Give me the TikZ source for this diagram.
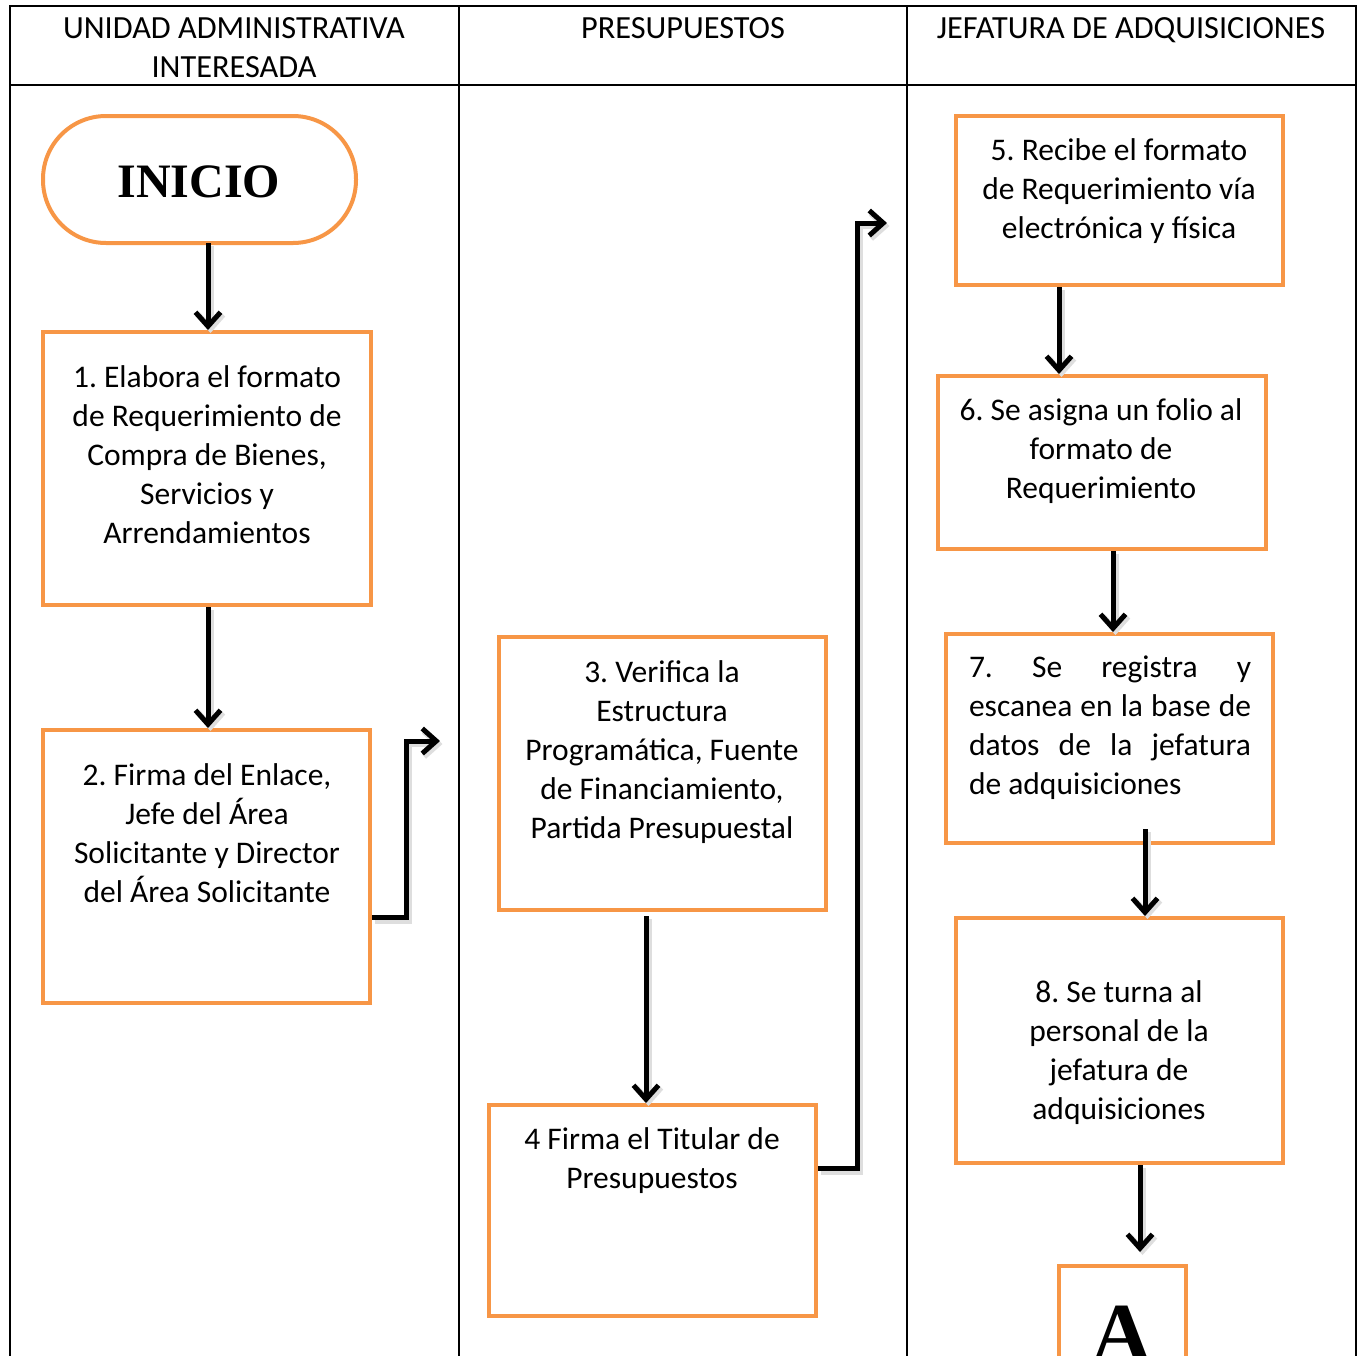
\documentclass[tikz,border=0pt]{standalone}
\usepackage{fontspec}
\setmainfont{Carlito}
\newfontfamily\timesbold[BoldFont={Liberation Serif Bold}]{Liberation Serif}
\usetikzlibrary{arrows.meta,calc}
\definecolor{accent}{RGB}{247,150,70}
\frenchspacing
\begin{document}
\begin{tikzpicture}[x=1pt,y=-1pt,
  boxtext/.style={inner sep=0pt,anchor=north,align=center,font=\fontsize{31.5}{39}\selectfont},
  headtext/.style={inner sep=0pt,anchor=north,align=center,font=\fontsize{32.3}{39}\selectfont},
  stepbox/.style={draw=accent,line width=4pt,inner sep=0pt},
  flow/.style={line width=5pt,-{Straight Barb[length=14pt,width=25pt]},
    preaction={draw=black!13,line width=6pt,transform canvas={shift={(2.5pt,-3pt)}}}},
  table/.style={line width=2pt}]
\useasboundingbox (0,0) rectangle (1359,1355);
\clip (0,0) rectangle (1359,1355);

% lane table
\draw[table] (10,1360) -- (10,6) -- (1356,6) -- (1356,1360);
\draw[table] (10,85) -- (1356,85);
\draw[table] (459,6) -- (459,1360);
\draw[table] (907,6) -- (907,1360);

\node[headtext] (h1) at (234,17) {UNIDAD ADMINISTRATIVA\\INTERESADA};
\node[headtext] (h2) at (683,17) {PRESUPUESTOS};
\node[headtext] (h3) at (1131,17) {JEFATURA DE ADQUISICIONES};

% start
\draw[draw=accent,line width=4pt,rounded corners=63pt] (43,116) rectangle (356,243);
\node[inner sep=0pt,minimum width=313pt,minimum height=127pt] (inicio) at (199.5,179.5) {};
\node[inner sep=0pt,font=\timesbold\fontsize{48}{50}\selectfont\bfseries] (inicioT) at (199,182) {INICIO};

% boxes
\node[stepbox,minimum width=328pt,minimum height=273pt] (b1) at (207,468.5) {};
\node[boxtext] (t1) at (207,365) {1. Elabora el formato\\de Requerimiento de\\Compra de Bienes,\\Servicios y\\Arrendamientos};

\node[stepbox,minimum width=327pt,minimum height=273pt] (b2) at (206.5,866.5) {};
\node[boxtext] (t2) at (207,763) {2. Firma del Enlace,\\Jefe del Área\\Solicitante y Director\\del Área Solicitante};

\node[stepbox,minimum width=327pt,minimum height=273pt] (b3) at (662.5,773.5) {};
\node[boxtext] (t3) at (662,660) {3. Verifica la\\Estructura\\Programática, Fuente\\de Financiamiento,\\Partida Presupuestal};

\node[stepbox,minimum width=327pt,minimum height=211pt] (b4) at (652.5,1210.5) {};
\node[boxtext] (t4) at (652,1127) {4 Firma el Titular de\\Presupuestos};

\node[stepbox,minimum width=327pt,minimum height=169pt] (b5) at (1119.5,200.5) {};
\node[boxtext] (t5) at (1119,138) {5. Recibe el formato\\de Requerimiento vía\\electrónica y física};

\node[stepbox,minimum width=328pt,minimum height=173pt] (b6) at (1102,462.5) {};
\node[boxtext] (t6) at (1101,398) {6. Se asigna un folio al\\formato de\\Requerimiento};

\node[stepbox,minimum width=327pt,minimum height=209pt] (b7) at (1109.5,738.5) {};
\node[boxtext,align=left] (t7) at (1110,656) {\makebox[282pt][s]{7. \hfill Se \hfill registra \hfill y}\\\makebox[282pt][s]{escanea en la base de}\\\makebox[282pt][s]{datos \ de \ la \ jefatura}\\de adquisiciones};

\node[stepbox,minimum width=327pt,minimum height=245pt] (b8) at (1119.5,1040.5) {};
\node[boxtext] (t8) at (1119,980) {8. Se turna al\\personal de la\\jefatura de\\adquisiciones};

\node[stepbox,minimum width=127pt,minimum height=160pt] (ba) at (1122.5,1346) {};
\node[inner sep=0pt,anchor=base,font=\timesbold\fontsize{84}{86}\selectfont\bfseries] (ta) at (1122,1361) {A};

% connectors
\coordinate (e2) at (406,741);
\coordinate (e2a) at (440,741);
\coordinate (e4) at (857,223);
\coordinate (e4a) at (887,223);
\draw[flow] (inicio.south -| 208,0) -- (b1.north -| 208,0);
\draw[flow] (b1.south -| 208,0) -- (b2.north -| 208,0);
\draw[flow] ($(b2.east)+(0,51)$) -| (e2) -- (e2a);
\draw[flow] (646,916) -- (b4.north -| 646,0);
\draw[flow] ($(b4.east)+(0,-42)$) -| (e4) -- (e4a);
\draw[flow] (b5.south -| 1059,0) -- (b6.north -| 1059,0);
\draw[flow] (b6.south -| 1113,0) -- (b7.north -| 1113,0);
\draw[flow] (1145,829) -- (b8.north -| 1145,0);
\draw[flow] (b8.south -| 1140,0) -- (1140,1252);
\end{tikzpicture}
\end{document}
